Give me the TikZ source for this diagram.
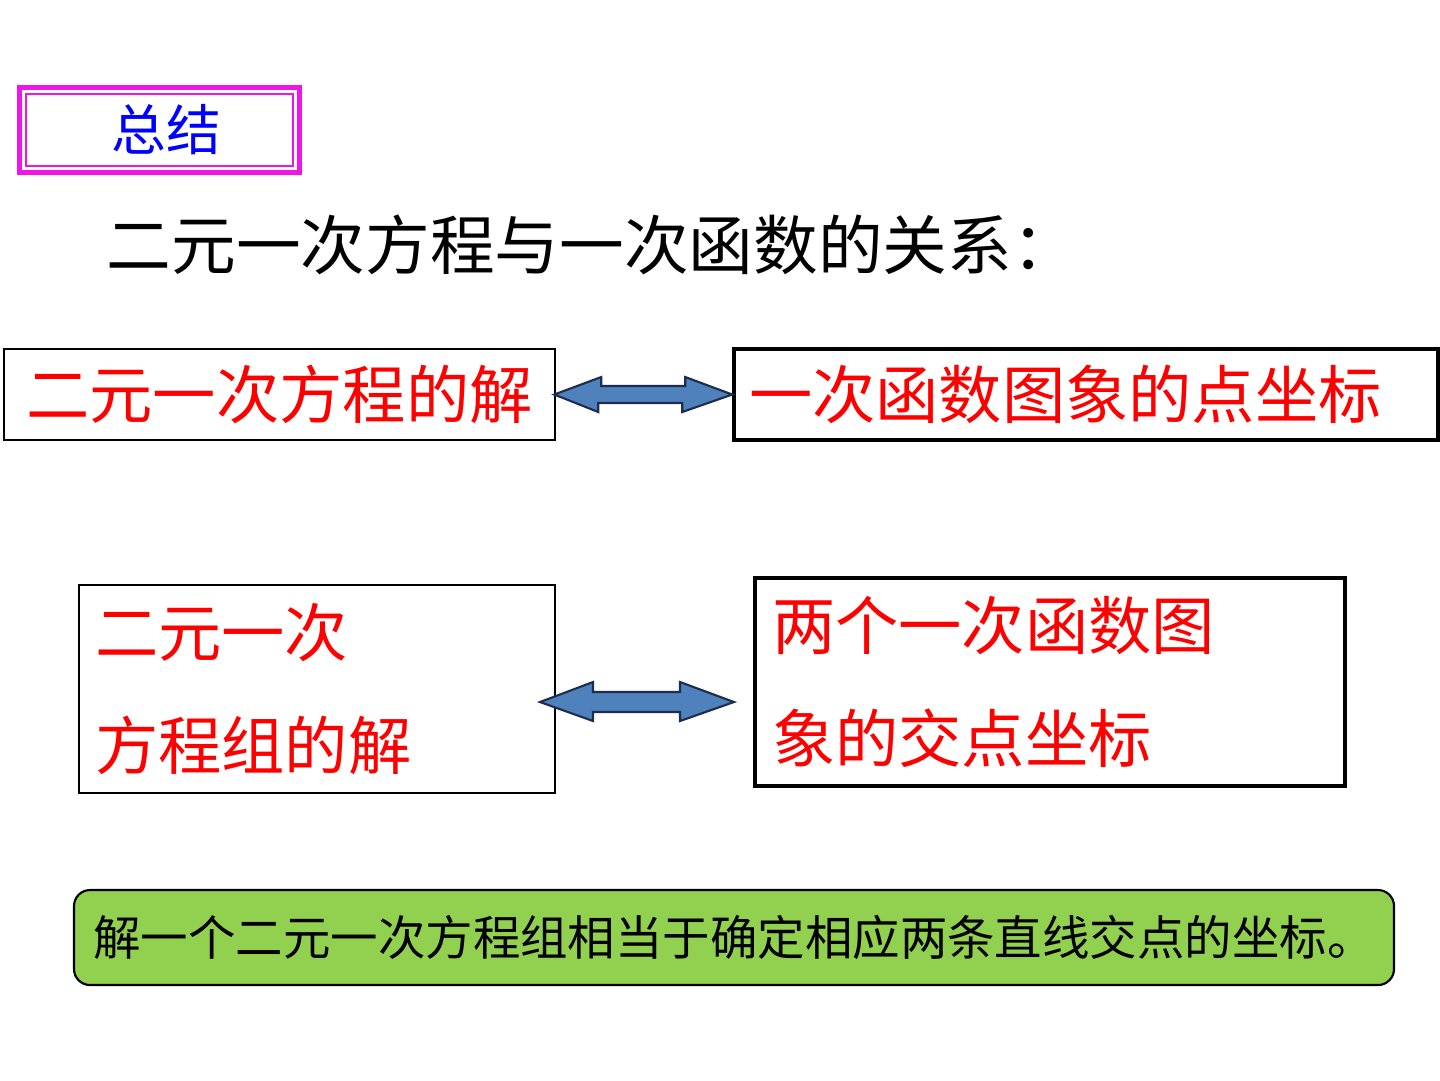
\documentclass[tikz,border=0pt]{standalone}
\usepackage{fontspec}
\newfontfamily\cjk{Noto Sans CJK SC}
\usetikzlibrary{positioning}
\definecolor{magbox}{RGB}{240,20,230}
\definecolor{arrowblue}{RGB}{79,129,189}
\definecolor{arrowline}{RGB}{30,45,75}
\definecolor{leafgreen}{RGB}{146,208,80}

\begin{document}
\begin{tikzpicture}[x=0.1mm,y=-0.1mm]
\tikzstyle{redtext}=[text=red,font={\cjk\fontsize{18pt}{32pt}\selectfont}]
\tikzstyle{box}=[draw,rectangle,inner ysep=0pt,redtext]
\tikzstyle{dblarrow}=[fill=arrowblue,draw=arrowline,line width=0.6pt,line join=miter]

\useasboundingbox (0,0) rectangle (1440,1080);

% title
\node [draw=magbox,line width=1.7pt,minimum width=28.1mm,minimum height=8.6mm,
       text=blue,font={\cjk\fontsize{15.6pt}{18pt}\selectfont}] (ttl) at (159.5,130) {\hspace{1.4mm}总结};
\draw [white,line width=0.35pt] (ttl.north west) rectangle (ttl.south east);
\draw [magbox,line width=0.5pt] ([shift={(10,10)}]ttl.north west) rectangle ([shift={(-10,-10)}]ttl.south east);

\node [anchor=west,inner sep=0pt,font={\cjk\fontsize{18.4pt}{22pt}\selectfont}] (head) at (106,245)
    {二元一次方程与一次函数的关系：};

% first row
\node [box,line width=0.7pt,minimum width=55.1mm,minimum height=9.1mm] (b1) at (279.5,394.5) {二元一次方程的解};
\node [box,line width=1pt,text width=67.4mm,inner xsep=1.5mm,minimum height=9.1mm,align=left] (b2) at (1086,394.5) {一次函数图象的点坐标};

\draw [dblarrow] (b1.east) ++(-2,0) -- ++(47,-17.5) -- ++(0,9) -- ++(84,0) -- ++(0,-9)
    -- (b2.west) -- ++(-50,17.5) -- ++(0,-9) -- ++(-84,0) -- ++(0,9) -- cycle;

% second row
\node [box,line width=0.8pt,text width=44.4mm,inner xsep=1.6mm,minimum height=20.8mm,align=left] (b3) at (317,689)
    {二元一次\\方程组的解};
\node [box,line width=1.1pt,text width=55.6mm,inner xsep=1.7mm,minimum height=20.8mm,align=left] (b4) at (1050,682)
    {两个一次函数图\\象的交点坐标};

\coordinate (l2) at (540,702);
\coordinate (r2) at (734,702);
\draw [dblarrow] (l2) -- ++(53,-20) -- ++(0,10) -- ++(87,0) -- ++(0,-10)
    -- (r2) -- ++(-54,19) -- ++(0,-9) -- ++(-87,0) -- ++(0,9) -- cycle;

% summary
\node [draw,fill=leafgreen,rounded corners=1.6mm,line width=0.6pt,minimum width=132mm,minimum height=9.5mm,
       font={\cjk\fontsize{13.5pt}{16pt}\selectfont}] (sum) at (734,937.5)
    {解一个二元一次方程组相当于确定相应两条直线交点的坐标。};

\end{tikzpicture}
\end{document}
